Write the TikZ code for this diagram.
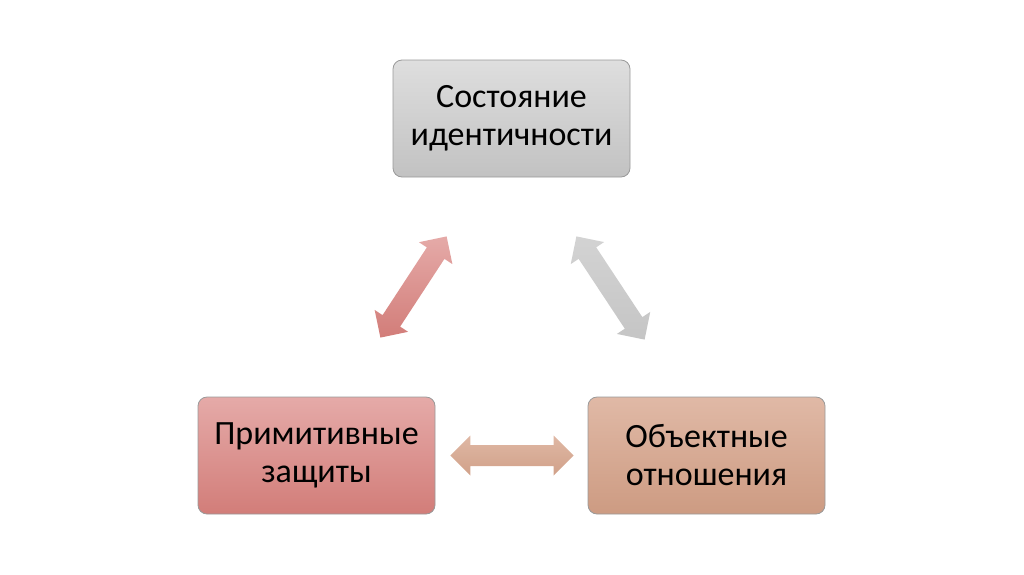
\documentclass[tikz,border=0pt]{standalone}
\usepackage{fontspec}
\setmainfont{Carlito}
\usepackage{xcolor}
\usepackage{tikz}
\usetikzlibrary{calc}

% Colours
\definecolor{identTop}{HTML}{DEDEDE}
\definecolor{identBot}{HTML}{C2C2C2}
\definecolor{primTop}{HTML}{E5AAA8}
\definecolor{primBot}{HTML}{D27D79}
\definecolor{objTop}{HTML}{E0B9A6}
\definecolor{objBot}{HTML}{CD9B82}

\tikzset{
    box/.style={draw=black!40, line width=0.8pt, rounded corners=9pt,
        minimum width=237pt, minimum height=117pt, align=center,
        font=\fontsize{34}{38}\selectfont},
    link/.style={draw=none},
}

% double block arrow from #2 to #3
\newcommand{\dblarrow}[3]{%
    \path[link, #1] let \p1=($(#3)-(#2)$), \n1={atan2(\y1,\x1)}, \n2={veclen(\x1,\y1)} in
        [shift={(#2)}, rotate=\n1]
        (0,0) -- (20pt,20pt) -- (20pt,10.5pt) -- ({\n2-20pt},10.5pt) -- ({\n2-20pt},20pt)
        -- (\n2,0) -- ({\n2-20pt},-20pt) -- ({\n2-20pt},-10.5pt) -- (20pt,-10.5pt) -- (20pt,-20pt) -- cycle;
}

\begin{document}
\begin{tikzpicture}[x=1pt, y=-1pt]
    \useasboundingbox (0,0) rectangle (1024,574);

    % Boxes
    \node[box, top color=identTop, bottom color=identBot] (ident) at (511.5,118.5) {Состояние\\идентичности};
    \node[box, top color=primTop, bottom color=primBot] (prim) at (316.5,455.5) {Примитивные\\защиты};
    \node[box, top color=objTop, bottom color=objBot] (obj) at (706.5,455.5) {Объектные\\отношения};

    % Arrow ends
    \coordinate (l1) at ($(ident.south west)+(54,59)$);
    \coordinate (l2) at ($(prim.north east)+(-55,-59)$);
    \coordinate (r1) at ($(ident.south east)+(-54,59)$);
    \coordinate (r2) at ($(obj.north west)+(57,-57)$);
    \coordinate (b1) at ($(prim.east)+(15,0)$);
    \coordinate (b2) at ($(obj.west)+(-14,0)$);

    % Arrows
    \dblarrow{top color=primTop, bottom color=primBot}{l1}{l2}
    \dblarrow{top color=identTop!95!black, bottom color=identBot!95}{r1}{r2}
    \dblarrow{top color=objTop!95!objBot, bottom color=objBot!80!objTop}{b1}{b2}
\end{tikzpicture}
\end{document}
